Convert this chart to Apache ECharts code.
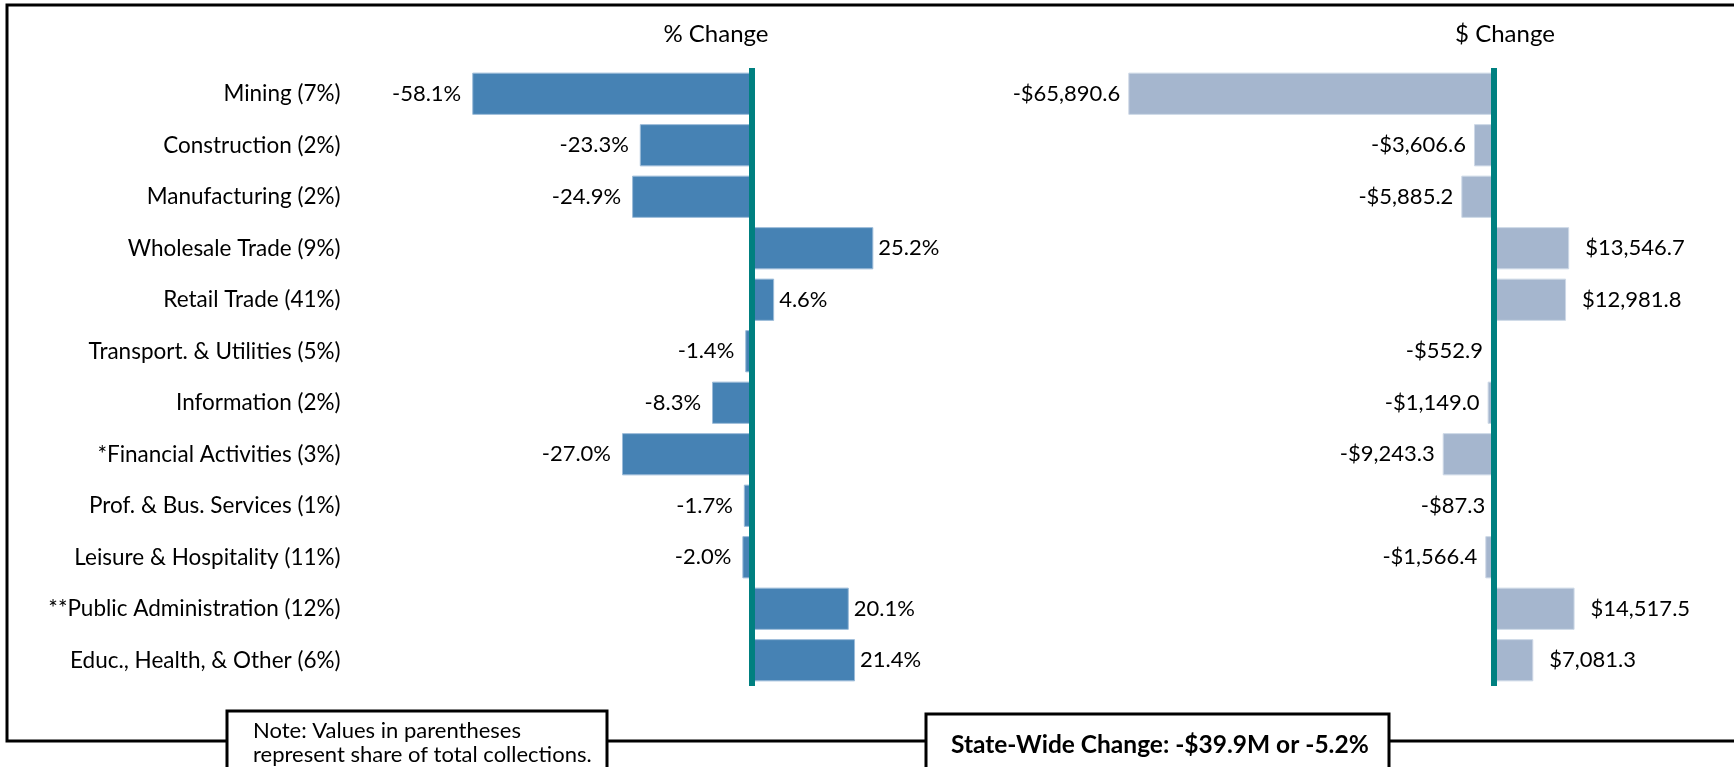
<!DOCTYPE html>
<html>
<head>
<meta charset="utf-8">
<script src="https://cdn.jsdelivr.net/npm/echarts@6/dist/echarts.min.js"></script>
<style>
  html, body { margin: 0; padding: 0; background: #fff; }
  #chart { width: 1734px; height: 767px; }
</style>
</head>
<body>
<div id="chart"></div>
<script>
// ---- data ----
const categories = [
  'Mining (7%)',
  'Construction (2%)',
  'Manufacturing (2%)',
  'Wholesale Trade (9%)',
  'Retail Trade (41%)',
  'Transport. & Utilities (5%)',
  'Information (2%)',
  '*Financial Activities (3%)',
  'Prof. & Bus. Services (1%)',
  'Leisure & Hospitality (11%)',
  '**Public Administration (12%)',
  'Educ., Health, & Other (6%)'
];
const pctChange = [-58.1, -23.3, -24.9, 25.2, 4.6, -1.4, -8.3, -27.0, -1.7, -2.0, 20.1, 21.4];
const dollarChange = [-65890.6, -3606.6, -5885.2, 13546.7, 12981.8, -552.9, -1149.0, -9243.3, -87.3, -1566.4, 14517.5, 7081.3];
const pctTitle = '% Change';
const dollarTitle = '$ Change';
const noteLines = ['Note: Values in parentheses', 'represent share of total collections.'];
const stateWide = 'State-Wide Change: -$39.9M or -5.2%';

// ---- helpers ----
const FONT = 'Lato';
function fmtPct(v) { return v.toFixed(1) + '%'; }
function fmtDollar(v) {
  const s = Math.abs(v).toFixed(1).replace(/\B(?=(\d{3})+(?!\d))/g, ',');
  return (v < 0 ? '-$' : '$') + s;
}
function items(values, negDist, posDist) {
  return values.map(v => ({
    value: v,
    label: { position: v < 0 ? 'left' : 'right', distance: v < 0 ? negDist : posDist }
  }));
}
const zeroLine = {
  silent: true,
  symbol: ['none', 'none'],
  label: { show: false },
  lineStyle: { color: '#008080', width: 6, type: 'solid' },
  data: [{ xAxis: 0 }]
};

const chart = echarts.init(document.getElementById('chart'), null, { renderer: 'canvas' });
const K = 3; // frame line width
const option = {
  animation: false,
  backgroundColor: '#fff',
  grid: [
    { left: 463.1, width: 481.5, top: 68, height: 618 },
    { left: 1105.5, width: 555, top: 68, height: 618 }
  ],
  xAxis: [
    { type: 'value', gridIndex: 0, min: -60, max: 40, show: false },
    { type: 'value', gridIndex: 1, min: -70000, max: 30000, show: false }
  ],
  yAxis: [
    {
      type: 'category', gridIndex: 0, data: categories, inverse: true,
      axisLine: { show: false }, axisTick: { show: false }, splitLine: { show: false },
      axisLabel: { margin: 122.5, fontSize: 22.5, fontFamily: FONT, color: '#000' }
    },
    {
      type: 'category', gridIndex: 1, data: categories, inverse: true,
      axisLine: { show: false }, axisTick: { show: false }, splitLine: { show: false },
      axisLabel: { show: false }
    }
  ],
  series: [
    {
      type: 'bar', xAxisIndex: 0, yAxisIndex: 0,
      data: items(pctChange, 11, 5),
      barCategoryGap: '18%',
      itemStyle: { color: '#4682B4', borderColor: '#9bbbd8', borderWidth: 1 },
      label: { show: true, fontSize: 22, fontFamily: FONT, color: '#000',
               formatter: p => fmtPct(p.value) },
      markLine: zeroLine
    },
    {
      type: 'bar', xAxisIndex: 1, yAxisIndex: 1,
      data: items(dollarChange, 8, 16),
      barCategoryGap: '18%',
      itemStyle: { color: '#A5B6CE', borderColor: '#cdd8e6', borderWidth: 1 },
      label: { show: true, fontSize: 22, fontFamily: FONT, color: '#000',
               formatter: p => fmtDollar(p.value) },
      markLine: zeroLine
    }
  ],
  graphic: [
    { type: 'text', x: 716, y: 34, style: { text: pctTitle, font: '24px ' + FONT, fill: '#000', textAlign: 'center', textVerticalAlign: 'middle' } },
    { type: 'text', x: 1505, y: 34, style: { text: dollarTitle, font: '24px ' + FONT, fill: '#000', textAlign: 'center', textVerticalAlign: 'middle' } },
    // outer frame
    { type: 'polyline', shape: { points: [[1734, 5], [7, 5], [7, 741], [227, 741]] }, style: { stroke: '#000', lineWidth: K, fill: null } },
    { type: 'line', shape: { x1: 607, y1: 741, x2: 926, y2: 741 }, style: { stroke: '#000', lineWidth: K } },
    { type: 'line', shape: { x1: 1389, y1: 741, x2: 1734, y2: 741 }, style: { stroke: '#000', lineWidth: K } },
    // note box
    { type: 'rect', shape: { x: 227, y: 711, width: 380, height: 80 }, style: { stroke: '#000', lineWidth: K, fill: '#fff' } },
    { type: 'text', x: 253, y: 731, style: { text: noteLines[0], font: '22px ' + FONT, fill: '#000', textAlign: 'left', textVerticalAlign: 'middle' } },
    { type: 'text', x: 253, y: 755, style: { text: noteLines[1], font: '22px ' + FONT, fill: '#000', textAlign: 'left', textVerticalAlign: 'middle' } },
    // state-wide box
    { type: 'rect', shape: { x: 926, y: 714, width: 463, height: 80 }, style: { stroke: '#000', lineWidth: K, fill: '#fff' } },
    { type: 'text', x: 951, y: 745, style: { text: stateWide, font: 'bold 24.5px ' + FONT, fill: '#000', textAlign: 'left', textVerticalAlign: 'middle' } }
  ]
};
chart.setOption(option);
</script>
</body>
</html>
